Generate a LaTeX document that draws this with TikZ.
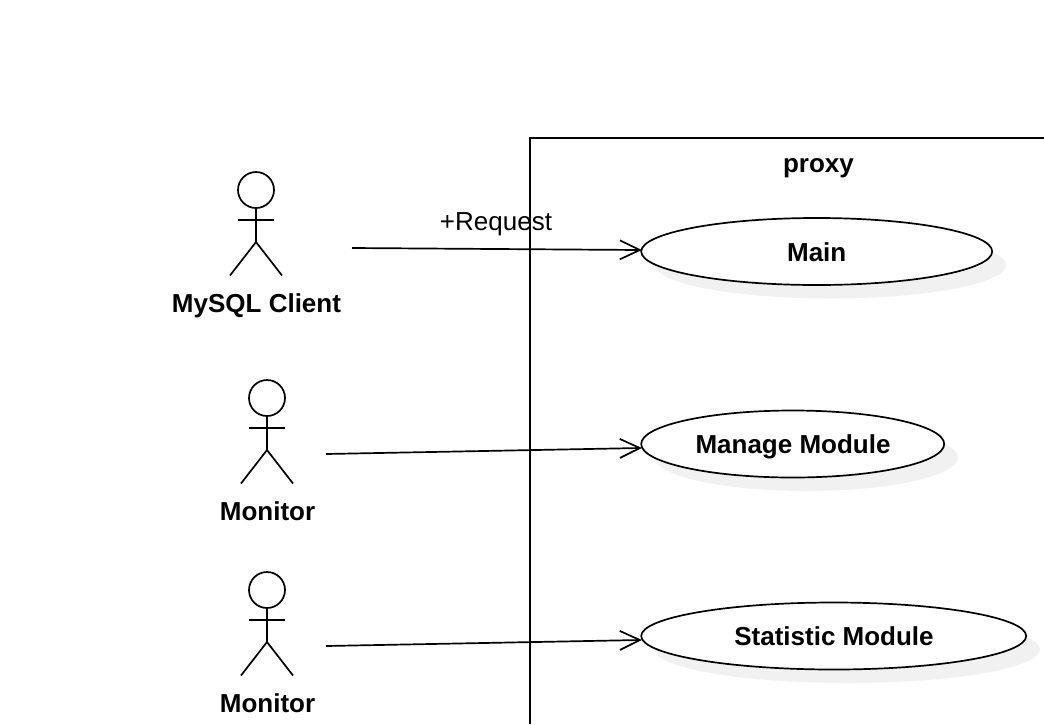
\documentclass[tikz,border=0pt]{standalone}
\usepackage{fontspec}
\setmainfont{Liberation Sans}
\usetikzlibrary{shapes.geometric,arrows.meta}
\definecolor{shade}{HTML}{F1F1F1}
\newcommand{\stickfigure}[5]{%
  % name, x, y (head centre), label, label baseline
  \node[head] (#1) at (#2,#3) {};
  \coordinate (#1hip) at (#2,#3+52);
  \draw[line] (#1.south) -- (#1hip);
  \draw[line] (#2-18,#3+30) -- (#2+18,#3+30);
  \draw[line] (#2-26,#3+85.5) -- (#1hip) -- (#2+26,#3+85.5);
  \node[lbl] (#1label) at (#2+0.5,#5) {#4};
}
\begin{document}
\begin{tikzpicture}[x=1pt,y=-1pt,
  line/.style={black,line width=1.7pt},
  head/.style={circle,draw=black,line width=1.7pt,minimum size=36pt,inner sep=0pt},
  lbl/.style={font=\bfseries\fontsize{26}{28}\selectfont,inner sep=0pt,anchor=base},
  usecase/.style={ellipse,draw=black,fill=white,line width=1.7pt,inner sep=0pt,minimum height=67pt},
  shadowcase/.style={ellipse,fill=shade,inner sep=0pt,minimum height=67pt},
  flow/.style={line,shorten >=-1.5pt,-{Straight Barb[length=20pt,width=19pt,line width=1.7pt]}}]
\useasboundingbox (0,0) rectangle (1044,724);
\draw[line] (530,724) -- (530,138) -- (1044,138);
\node[shadowcase,minimum width=351pt] (s1) at (830.5,265) {};
\node[shadowcase,minimum width=303pt] (s2) at (806.5,457.5) {};
\node[shadowcase,minimum width=385pt] (s3) at (847.5,649.5) {};
\node[usecase,minimum width=351pt] (main) at (816.7,251.5) {};
\node[usecase,minimum width=303pt] (manage) at (792.7,444) {};
\node[usecase,minimum width=385pt] (stat) at (833.7,636) {};
\node[lbl] (mainlabel) at (816.7,261) {Main};
\node[lbl] (managelabel) at (793,453) {Manage Module};
\node[lbl] (statlabel) at (834,645) {Statistic Module};
\node[lbl] (proxy) at (818.5,172) {proxy};
\stickfigure{client}{256}{190}{MySQL Client}{312}
\stickfigure{mon}{267}{398}{Monitor}{520}
\stickfigure{montwo}{267}{590}{Monitor}{712}
\coordinate (c1) at (352,248);
\coordinate (c2) at (326,454);
\coordinate (c3) at (326,646);
\draw[flow] (c1) -- ([yshift=1.5pt]main.west);
\draw[flow] (c2) -- ([yshift=-4pt]manage.west);
\draw[flow] (c3) -- ([yshift=-4pt]stat.west);
\node[inner sep=0pt,anchor=base,font=\fontsize{26}{28}\selectfont] (req) at (496,230) {+Request};
\end{tikzpicture}
\end{document}
